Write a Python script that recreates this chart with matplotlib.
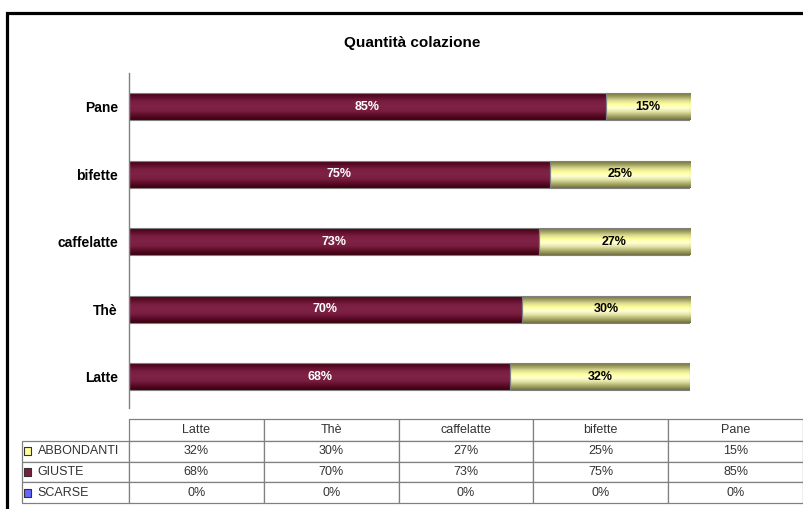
import numpy as np
import matplotlib
matplotlib.use('Agg')
import matplotlib.pyplot as plt
from matplotlib.colors import LinearSegmentedColormap
from matplotlib.patches import Rectangle
from matplotlib.table import Table

plt.rcParams['font.family'] = ['Liberation Sans', 'DejaVu Sans']

# data
categories = ['Latte', 'Thè', 'caffelatte', 'bifette', 'Pane']
series_names = ['ABBONDANTI', 'GIUSTE', 'SCARSE']
abbondanti = [32, 30, 27, 25, 15]
giuste = [68, 70, 73, 75, 85]
scarse = [0, 0, 0, 0, 0]

W, H = 804, 509
fig = plt.figure(figsize=(W / 100, H / 100), dpi=100, facecolor='white')

# outer black frame (runs off right/bottom edges)
fig.patches.append(Rectangle((7 / W, -0.05), 1.1, (H - 13) / H + 0.05, fill=False,
                             edgecolor='black', linewidth=2.3, transform=fig.transFigure))

ax = fig.add_axes([129 / W, 1 - 408 / H, 561 / W, 335 / H])

y = np.arange(len(categories))
bh = 0.4

# cylinder-like shading for each series
maroon_cmap = LinearSegmentedColormap.from_list(
    'maroon', ['#3a000e', '#5c0c28', '#7a1f40', '#7e2345', '#7a1f40', '#5c0c28', '#3a000e'])
yellow_cmap = LinearSegmentedColormap.from_list(
    'yellow', ['#707040', '#a8a868', '#e0e0a0', '#ffffd8', '#ffff99', '#d8d890', '#9a9a5c', '#686838'])
grad = np.linspace(0, 1, 64).reshape(-1, 1)


def shade(bars, cmap):
    for p in bars:
        x0, y0 = p.get_x(), p.get_y()
        w, h = p.get_width(), p.get_height()
        if w <= 0:
            continue
        im = ax.imshow(grad, cmap=cmap, extent=(x0, x0 + w, y0, y0 + h),
                       aspect='auto', origin='lower', zorder=2, interpolation='bilinear')
        im.set_clip_path(p)


b_sc = ax.barh(y, scarse, height=bh, color='#6666ff', linewidth=0, zorder=1)
b_gi = ax.barh(y, giuste, left=scarse, height=bh, color='#7a1f40',
               edgecolor='#808080', linewidth=0.8, zorder=3)
left_ab = [s + g for s, g in zip(scarse, giuste)]
b_ab = ax.barh(y, abbondanti, left=left_ab, height=bh, color='#ffffa8',
               edgecolor='#808080', linewidth=0.8, zorder=3)
for bars in (b_gi, b_ab):
    for p in bars:
        p.set_facecolor('none')
shade(b_gi, maroon_cmap)
shade(b_ab, yellow_cmap)

ax.set_xlim(0, 100)
ax.set_ylim(-0.46, 4.5)

ax.bar_label(b_gi, labels=[f'{v}%' for v in giuste], label_type='center',
             color='white', fontsize=9, fontweight='bold', zorder=5)
ax.bar_label(b_ab, labels=[f'{v}%' for v in abbondanti], label_type='center',
             color='black', fontsize=9, fontweight='bold', zorder=5)

ax.set_yticks(y)
ax.set_yticklabels(categories, fontsize=10, fontweight='bold')
ax.tick_params(axis='y', length=0, pad=8)
ax.set_xticks([])
for side in ('top', 'right', 'bottom'):
    ax.spines[side].set_visible(False)
ax.spines['left'].set_color('#808080')
ax.spines['left'].set_linewidth(1)

fig.text(412 / W, 1 - 43 / H, 'Quantità colazione', ha='center', va='center',
         fontsize=11, fontweight='bold')

# data table under the chart
tax = fig.add_axes([22 / W, 1 - 503 / H, 781 / W, 84 / H])
tax.set_xlim(0, 1)
tax.set_ylim(0, 1)
tax.axis('off')

rows = [abbondanti, giuste, scarse]
key_colors = ['#ffff99', '#7a1f40', '#6666ff']
lab_w = 107 / 781
col_w = 134.8 / 781
head_h = 22 / 84
row_h = 20.67 / 84

tbl = Table(tax, bbox=[0, 0, 1, 1])
c = tbl.add_cell(0, 0, lab_w, head_h, text='')
c.visible_edges = 'open'
for j, name in enumerate(categories):
    tbl.add_cell(0, j + 1, col_w, head_h, text=name, loc='center')
for i, (name, vals) in enumerate(zip(series_names, rows)):
    cell = tbl.add_cell(i + 1, 0, lab_w, row_h, text=name, loc='left')
    cell.PAD = 0.145
    for j, v in enumerate(vals):
        tbl.add_cell(i + 1, j + 1, col_w, row_h, text=f'{v}%', loc='center')
tbl.auto_set_font_size(False)
for cell in tbl.get_celld().values():
    cell.set_edgecolor('#808080')
    cell.set_linewidth(0.9)
    cell.get_text().set_fontsize(9)
    cell.get_text().set_color('#333333')
tax.add_table(tbl)

# legend keys in the row label cells
key_y = [1 - (22 + 10.3) / 84, 1 - (22 + 31) / 84, 1 - (22 + 51.7) / 84]
tax.scatter([5.5 / 781] * 3, key_y, s=30, marker='s', c=key_colors,
            edgecolors='#333333', linewidths=0.8, zorder=5, clip_on=False)

fig.savefig('out.png', dpi=100, facecolor='white')
